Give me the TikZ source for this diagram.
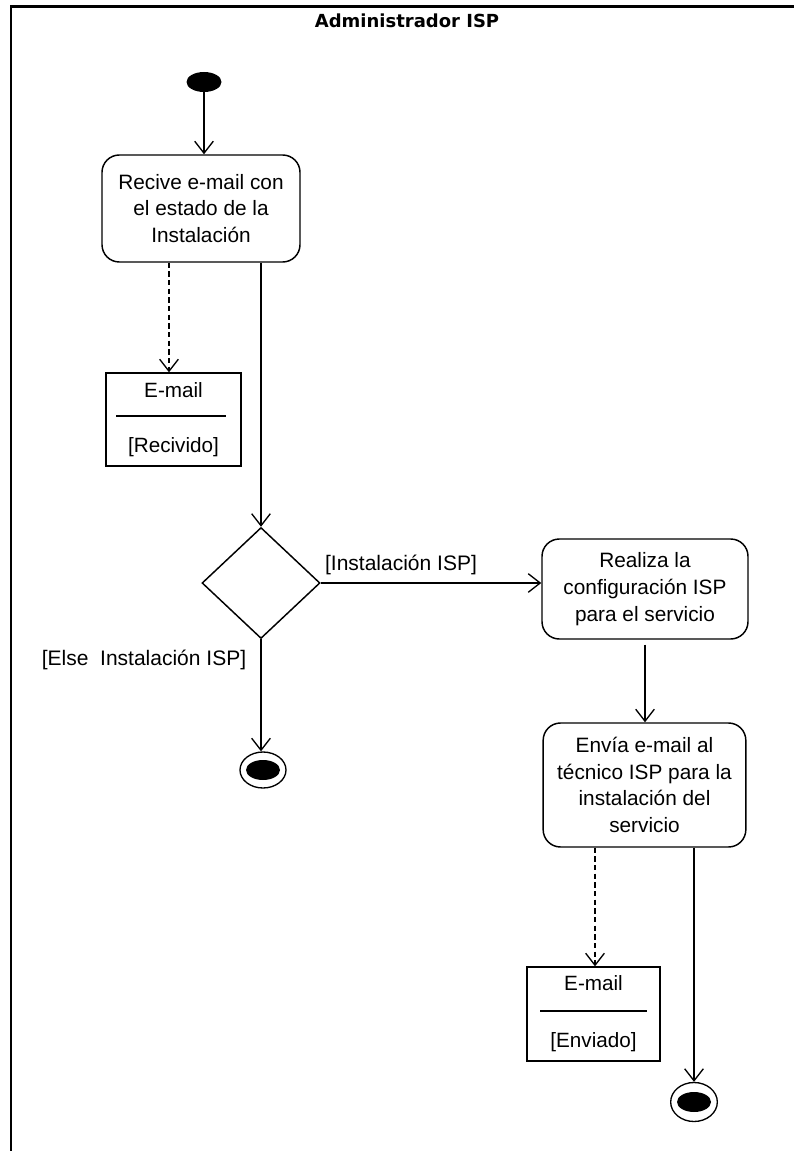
\documentclass[tikz,border=0pt]{standalone}
\usepackage{fontspec}
\setmainfont{Liberation Sans}
\newfontfamily\titlefont{DejaVu Sans}
\usetikzlibrary{arrows.meta,shapes.geometric,calc}

\begin{document}
\begin{tikzpicture}[x=0.75pt,y=-0.75pt,
  act/.style={draw, line width=1.1pt, rounded corners=13pt, align=center,
    font=\fontsize{15.6pt}{20pt}\selectfont, inner sep=0pt},
  obj/.style={draw, line width=1pt, inner sep=0pt},
  objtext/.style={font=\fontsize{15.5pt}{18pt}\selectfont, inner sep=0pt},
  guard/.style={font=\fontsize{15.75pt}{18pt}\selectfont, inner sep=0pt},
  flow/.style={line width=1pt, -{Straight Barb[length=9pt,width=14pt,line width=1pt]}},
  dep/.style={flow, line width=1.4pt, dash pattern=on 4pt off 2.5pt},
  initial/.style={ellipse, fill=black, inner sep=0pt, minimum width=26.25pt, minimum height=15pt},
  final/.style={ellipse, draw, fill=white, line width=1pt, inner sep=0pt},
  finaldot/.style={ellipse, fill=black, inner sep=0pt, minimum width=25.5pt, minimum height=15pt},
  rule/.style={line width=1pt}
]
\useasboundingbox (0,0) rectangle (794,1151);

% swimlane frame and heading
\draw[line width=1.9pt] (11,1151) -- (11,6.5) -- (794,6.5);
\node[font=\titlefont\bfseries\fontsize{13.5pt}{16pt}\selectfont, inner sep=0pt] (title) at (407,21) {Administrador ISP};

% initial state
\node[initial] (start) at (204,82) {};

% activities
\node[act, minimum width=148.5pt, minimum height=80.25pt] (recv) at (201,208.5)
  {Recive e-mail con\\el estado de la\\Instalación};
\node[act, minimum width=154.5pt, minimum height=75pt] (config) at (645,589)
  {Realiza la\\configuración ISP\\para el servicio};
\node[act, minimum width=152pt, minimum height=93pt] (send) at (644.5,785)
  {Envía e-mail al\\técnico ISP para la\\instalación del\\servicio};

% object: received e-mail
\node[obj, minimum width=101.25pt, minimum height=69.75pt] (mail1) at (173.5,419.5) {};
\node[objtext] (mail1name) at ($(mail1.center)+(0,-29.5)$) {E-mail};
\node[objtext] (mail1state) at ($(mail1.center)+(0,27.5)$) {[Recivido]};
\draw[rule] ($(mail1.west)+(11,-3.5)$) -- ($(mail1.east)+(-16,-3.5)$);
\coordinate (mail1in) at ($(mail1.north)+(-4.5,0)$);

% object: sent e-mail
\node[obj, minimum width=99.75pt, minimum height=70.5pt] (mail2) at (593.5,1014) {};
\node[objtext] (mail2name) at ($(mail2.center)+(0,-31)$) {E-mail};
\node[objtext] (mail2state) at ($(mail2.center)+(0,28)$) {[Enviado]};
\draw[rule] ($(mail2.west)+(14,-3)$) -- ($(mail2.east)+(-14,-3)$);
\coordinate (mail2in) at ($(mail2.north)+(1.5,0)$);

% decision
\node[diamond, draw, line width=1.1pt, inner sep=0pt, minimum width=88.5pt, minimum height=83.25pt] (choice) at (261,583) {};
\node[guard] (gyes) at (401,565) {[Instalación ISP]};
\node[guard] (gno) at (144,660) {[Else\ \ Instalación ISP]};

% final states
\node[final, minimum width=34.5pt, minimum height=27pt] (stop1) at (263,770) {};
\node[finaldot] (stop1dot) at (stop1.center) {};
\node[final, minimum width=35pt, minimum height=29.25pt] (stop2) at (694,1102) {};
\node[finaldot] (stop2dot) at (stop2.center) {};

% transitions
\draw[flow] (start) -- (start |- recv.north);
\draw[dep] (recv.south -| mail1in) -- (mail1in);
\draw[flow] (recv.south -| choice.north) -- (choice.north);
\draw[flow] (choice.east) -- (choice.east -| config.west);
\draw[flow] (choice.south) -- (choice.south |- stop1.north);
\draw[flow, shorten <=3.75pt] (config.south) -- (config.south |- send.north);
\draw[dep] (send.south -| mail2in) -- (mail2in);
\draw[flow] (send.south -| stop2.north) -- (stop2.north);
\end{tikzpicture}
\end{document}
